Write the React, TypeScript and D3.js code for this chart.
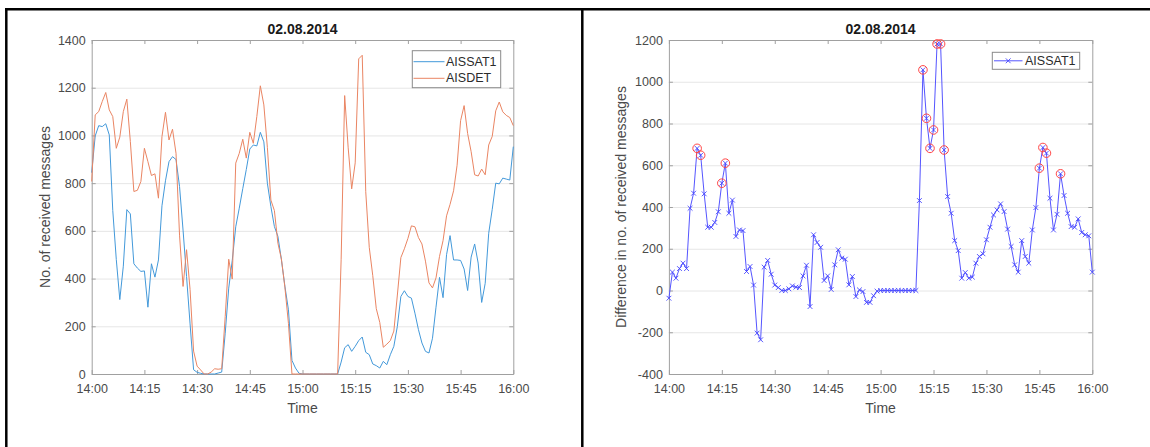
import React, { useEffect, useRef } from "react";
import * as d3 from "d3";

// one sample per minute, 14:00 .. 16:00
const timeTicks = ["14:00", "14:15", "14:30", "14:45", "15:00", "15:15", "15:30", "15:45", "16:00"];
const countTicks = [0, 200, 400, 600, 800, 1000, 1200, 1400];
const diffTicks = [-400, -200, 0, 200, 400, 600, 800, 1000, 1200];

const aissat1 = [
  844, 998, 1041, 1037, 1049, 1002, 685, 480, 312, 452,
  689, 671, 462, 444, 430, 432, 280, 462, 406, 478,
  705, 810, 890, 911, 899, 786, 603, 409, 210, 18,
  7, 3, 0, 0, 0, 0, 4, 8, 171, 360,
  475, 617, 695, 777, 857, 943, 960, 956, 1013, 973,
  800, 702, 618, 577, 479, 367, 269, 57, 25, 3,
  0, 0, 0, 0, 0, 0, 0, 0, 0, 0,
  0, 50, 110, 123, 95, 116, 140, 155, 91, 81,
  42, 35, 25, 53, 39, 81, 116, 200, 325, 349,
  325, 318, 255, 186, 130, 95, 88, 150, 280, 405,
  320, 500, 580, 478, 478, 476, 440, 350, 490, 545,
  465, 300, 380, 590, 690, 800, 797, 821, 817, 813,
  953,
];

const aisdet = [
  807, 1086, 1100, 1142, 1180, 1107, 1079, 946, 993, 1100,
  1152, 974, 765, 770, 807, 946, 890, 832, 839, 737,
  995, 1097, 981, 1026, 925, 582, 367, 521, 354, 96,
  33, 17, 0, 0, 8, 22, 20, 22, 241, 481,
  398, 884, 925, 984, 905, 1013, 967, 1079, 1208, 1128,
  950, 729, 685, 548, 482, 362, 212, 0, 0, 0,
  0, 0, 0, 0, 0, 0, 0, 0, 0, 0,
  0, 481, 1167, 948, 776, 885, 1321, 1336, 764, 531,
  412, 274, 216, 112, 125, 140, 180, 331, 488, 525,
  568, 621, 617, 572, 545, 473, 382, 361, 403, 493,
  559, 663, 711, 768, 875, 1062, 1125, 1008, 932, 835,
  830, 859, 835, 960, 996, 1103, 1140, 1099, 1084, 1075,
  1041,
];

const difference = [
  -37, 88, 59, 105, 131, 105, 394, 466, 681, 648,
  463, 303, 303, 326, 377, 514, 610, 370, 433, 259,
  290, 287, 91, 115, 26, -204, -236, 112, 144, 78,
  26, 14, 0, 0, 8, 22, 16, 14, 70, 121,
  -77, 267, 230, 207, 48, 70, 5, 123, 195, 155,
  150, 27, 67, -29, 3, -5, -57, -57, -25, -3,
  0, 0, 0, 0, 0, 0, 0, 0, 0, 0,
  0, 431, 1057, 825, 681, 769, 1181, 1181, 673, 450,
  370, 239, 191, 59, 86, 59, 64, 131, 163, 176,
  243, 303, 362, 386, 415, 378, 294, 211, 123, 88,
  239, 163, 131, 290, 397, 586, 685, 658, 442, 290,
  365, 559, 455, 370, 306, 303, 343, 278, 267, 262,
  88,
];

const FONT = "'Liberation Sans', Arial, Helvetica, sans-serif";
const TEXT = "#4a4a4a";
const AXIS = "#a0a0a0";
const BLUE = "#4399da";
const ORANGE = "#ea8563";
const DIFF = "#5555ff";

const App = () => {
  const svgRef = useRef<SVGSVGElement>(null);

  useEffect(() => {
    const svg = d3.select(svgRef.current);
    svg.selectAll("*").remove();

    const tickMinutes = timeTicks.map((_, i) => i * 15);

    // table frame around the two figures
    svg.append("line").attr("x1", 5).attr("x2", 1150).attr("y1", 9.3).attr("y2", 9.3)
      .attr("stroke", "#000").attr("stroke-width", 2.5);
    svg.append("line").attr("x1", 6.3).attr("x2", 6.3).attr("y1", 8).attr("y2", 447)
      .attr("stroke", "#000").attr("stroke-width", 2.5);
    svg.append("line").attr("x1", 582.3).attr("x2", 582.3).attr("y1", 8).attr("y2", 447)
      .attr("stroke", "#000").attr("stroke-width", 2.5);

    const drawPanel = (x, y, yTicks, yLabel, labelX) => {
      const g = svg.append("g");
      const [x0, x1] = x.range();
      const [yBottom, yTop] = y.range();

      g.selectAll(".grid")
        .data(yTicks)
        .enter()
        .append("line")
        .attr("x1", x0)
        .attr("x2", x1)
        .attr("y1", (d) => y(d) + 0.5)
        .attr("y2", (d) => y(d) + 0.5)
        .attr("stroke", "#e6e6e6");

      const bottom = g.append("g")
        .attr("transform", `translate(0,${yBottom})`)
        .call(d3.axisBottom(x).tickValues(tickMinutes)
          .tickFormat((d, i) => timeTicks[i]).tickSizeInner(-4).tickSizeOuter(0).tickPadding(10));
      const top = g.append("g")
        .attr("transform", `translate(0,${yTop})`)
        .call(d3.axisTop(x).tickValues(tickMinutes).tickFormat(() => "").tickSizeInner(-4).tickSizeOuter(0));
      const left = g.append("g")
        .attr("transform", `translate(${x0},0)`)
        .call(d3.axisLeft(y).tickValues(yTicks).tickFormat((d) => String(d))
          .tickSizeInner(-4).tickSizeOuter(0).tickPadding(6));
      const right = g.append("g")
        .attr("transform", `translate(${x1},0)`)
        .call(d3.axisRight(y).tickValues(yTicks).tickFormat(() => "").tickSizeInner(-4).tickSizeOuter(0));

      [bottom, top, left, right].forEach((a) => {
        a.attr("font-family", FONT).attr("font-size", 12.5);
        a.selectAll(".domain").attr("stroke", AXIS);
        a.selectAll(".tick line").attr("stroke", AXIS);
        a.selectAll(".tick text").attr("fill", TEXT);
      });

      g.append("text")
        .attr("x", (x0 + x1) / 2)
        .attr("y", 34)
        .attr("text-anchor", "middle")
        .attr("font-family", FONT)
        .attr("font-size", 14)
        .attr("font-weight", "bold")
        .attr("fill", "#1a1a1a")
        .text("02.08.2014");

      g.append("text")
        .attr("x", (x0 + x1) / 2)
        .attr("y", 413)
        .attr("text-anchor", "middle")
        .attr("font-family", FONT)
        .attr("font-size", 14)
        .attr("fill", TEXT)
        .text("Time");

      g.append("text")
        .attr("transform", `translate(${labelX},${(yBottom + yTop) / 2}) rotate(-90)`)
        .attr("text-anchor", "middle")
        .attr("dominant-baseline", "central")
        .attr("font-family", FONT)
        .attr("font-size", 14)
        .attr("fill", TEXT)
        .text(yLabel);

      return g;
    };

    // left: received messages
    const xL = d3.scaleLinear().domain([0, 120]).range([91.7, 513.3]);
    const yL = d3.scaleLinear().domain([0, 1400]).range([374, 40]);
    const gL = drawPanel(xL, yL, countTicks, "No. of received messages", 45.3);

    const lineL = d3.line<number>().x((d, i) => xL(i)).y((d) => yL(d));
    gL.append("path").datum(aissat1).attr("fill", "none")
      .attr("stroke", BLUE).attr("stroke-width", 1).attr("d", lineL);
    gL.append("path").datum(aisdet).attr("fill", "none")
      .attr("stroke", ORANGE).attr("stroke-width", 1).attr("d", lineL);

    const legL = gL.append("g");
    legL.append("rect").attr("x", 412.3).attr("y", 50.7).attr("width", 88.4).attr("height", 37)
      .attr("fill", "#fff").attr("stroke", "#8a8a8a");
    [["AISSAT1", BLUE], ["AISDET", ORANGE]].forEach(([name, color], i) => {
      const cy = 61.7 + i * 16.6;
      legL.append("line").attr("x1", 413.5).attr("x2", 444.5).attr("y1", cy).attr("y2", cy)
        .attr("stroke", color).attr("stroke-width", 1);
      legL.append("text").attr("x", 446).attr("y", cy).attr("dominant-baseline", "central")
        .attr("font-family", FONT).attr("font-size", 12.5).attr("fill", "#2b2b2b").text(name);
    });

    // right: difference AISDET - AISSAT1
    const xR = d3.scaleLinear().domain([0, 120]).range([668.9, 1092.3]);
    const yR = d3.scaleLinear().domain([-400, 1200]).range([374, 40]);
    const gR = drawPanel(xR, yR, diffTicks, "Difference in no. of received messages", 621);

    const lineR = d3.line<number>().x((d, i) => xR(i)).y((d) => yR(d));
    gR.append("path").datum(difference).attr("fill", "none")
      .attr("stroke", DIFF).attr("stroke-width", 1).attr("d", lineR);

    const cross = "M-2.4,-2.4L2.4,2.4M-2.4,2.4L2.4,-2.4";
    gR.selectAll(".mark")
      .data(difference)
      .enter()
      .append("path")
      .attr("transform", (d, i) => `translate(${xR(i)},${yR(d)})`)
      .attr("d", cross)
      .attr("fill", "none")
      .attr("stroke", "#4646ff")
      .attr("stroke-width", 0.9);

    const peaks = difference.map((v, i) => ({ v, i })).filter((p) => p.v > 500);
    gR.selectAll(".peak")
      .data(peaks)
      .enter()
      .append("circle")
      .attr("cx", (p) => xR(p.i))
      .attr("cy", (p) => yR(p.v))
      .attr("r", 4.3)
      .attr("fill", "none")
      .attr("stroke", "#ff4545")
      .attr("stroke-width", 1);

    const legR = gR.append("g");
    legR.append("rect").attr("x", 992.3).attr("y", 52.3).attr("width", 87.4).attr("height", 17)
      .attr("fill", "#fff").attr("stroke", "#8a8a8a");
    legR.append("line").attr("x1", 994).attr("x2", 1022.5).attr("y1", 60.8).attr("y2", 60.8)
      .attr("stroke", DIFF).attr("stroke-width", 1);
    legR.append("path").attr("transform", "translate(1008.2,60.8)").attr("d", cross)
      .attr("fill", "none").attr("stroke", "#4646ff").attr("stroke-width", 0.9);
    legR.append("text").attr("x", 1025).attr("y", 60.8).attr("dominant-baseline", "central")
      .attr("font-family", FONT).attr("font-size", 12.5).attr("fill", "#2b2b2b").text("AISSAT1");
  }, []);

  return (
    <svg
      ref={svgRef}
      width={1150}
      height={447}
      style={{ position: "absolute", left: 0, top: 0, background: "#fff" }}
    ></svg>
  );
};

export default App;
